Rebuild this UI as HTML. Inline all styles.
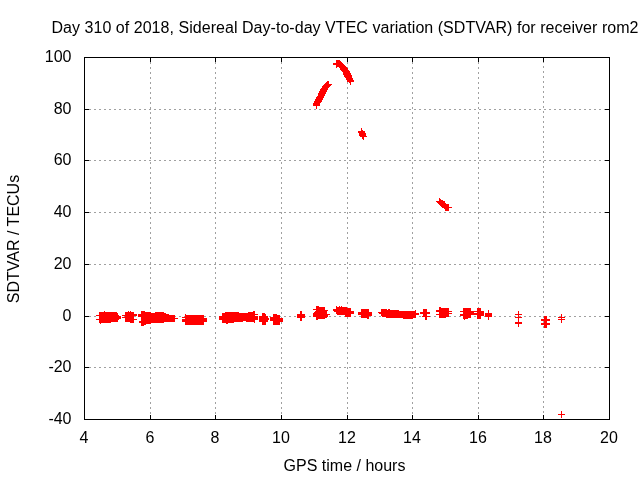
<!DOCTYPE html>
<html><head><meta charset="utf-8"><style>
html,body{margin:0;padding:0;background:#fff;width:640px;height:480px;overflow:hidden}
svg{display:block}
text{font-family:"Liberation Sans",Arial,sans-serif;font-size:16px;letter-spacing:0;fill:#000}
</style></head><body>
<svg width="640" height="480" viewBox="0 0 640 480" shape-rendering="crispEdges">
<rect width="640" height="480" fill="#fff"/>
<path d="M85 367h1v1h-1zM89 367h2v1h-2zM94 367h2v1h-2zM99 367h2v1h-2zM104 367h2v1h-2zM109 367h2v1h-2zM114 367h2v1h-2zM119 367h2v1h-2zM124 367h2v1h-2zM129 367h2v1h-2zM134 367h2v1h-2zM139 367h2v1h-2zM144 367h2v1h-2zM149 367h2v1h-2zM154 367h2v1h-2zM159 367h2v1h-2zM164 367h2v1h-2zM169 367h2v1h-2zM174 367h2v1h-2zM179 367h2v1h-2zM184 367h2v1h-2zM189 367h2v1h-2zM194 367h2v1h-2zM199 367h2v1h-2zM204 367h2v1h-2zM209 367h2v1h-2zM214 367h2v1h-2zM219 367h2v1h-2zM224 367h2v1h-2zM229 367h2v1h-2zM234 367h2v1h-2zM239 367h2v1h-2zM244 367h2v1h-2zM249 367h2v1h-2zM254 367h2v1h-2zM259 367h2v1h-2zM264 367h2v1h-2zM269 367h2v1h-2zM274 367h2v1h-2zM279 367h2v1h-2zM284 367h2v1h-2zM289 367h2v1h-2zM294 367h2v1h-2zM299 367h2v1h-2zM304 367h2v1h-2zM309 367h2v1h-2zM314 367h2v1h-2zM319 367h2v1h-2zM324 367h2v1h-2zM329 367h2v1h-2zM334 367h2v1h-2zM339 367h2v1h-2zM344 367h2v1h-2zM349 367h2v1h-2zM354 367h2v1h-2zM359 367h2v1h-2zM364 367h2v1h-2zM369 367h2v1h-2zM374 367h2v1h-2zM379 367h2v1h-2zM384 367h2v1h-2zM389 367h2v1h-2zM394 367h2v1h-2zM399 367h2v1h-2zM404 367h2v1h-2zM409 367h2v1h-2zM414 367h2v1h-2zM419 367h2v1h-2zM424 367h2v1h-2zM429 367h2v1h-2zM434 367h2v1h-2zM439 367h2v1h-2zM444 367h2v1h-2zM449 367h2v1h-2zM454 367h2v1h-2zM459 367h2v1h-2zM464 367h2v1h-2zM469 367h2v1h-2zM474 367h2v1h-2zM479 367h2v1h-2zM484 367h2v1h-2zM489 367h2v1h-2zM494 367h2v1h-2zM499 367h2v1h-2zM504 367h2v1h-2zM509 367h2v1h-2zM514 367h2v1h-2zM519 367h2v1h-2zM524 367h2v1h-2zM529 367h2v1h-2zM534 367h2v1h-2zM539 367h2v1h-2zM544 367h2v1h-2zM549 367h2v1h-2zM554 367h2v1h-2zM559 367h2v1h-2zM564 367h2v1h-2zM569 367h2v1h-2zM574 367h2v1h-2zM579 367h2v1h-2zM584 367h2v1h-2zM589 367h2v1h-2zM594 367h2v1h-2zM599 367h2v1h-2zM604 367h2v1h-2zM85 316h1v1h-1zM89 316h2v1h-2zM94 316h2v1h-2zM99 316h2v1h-2zM104 316h2v1h-2zM109 316h2v1h-2zM114 316h2v1h-2zM119 316h2v1h-2zM124 316h2v1h-2zM129 316h2v1h-2zM134 316h2v1h-2zM139 316h2v1h-2zM144 316h2v1h-2zM149 316h2v1h-2zM154 316h2v1h-2zM159 316h2v1h-2zM164 316h2v1h-2zM169 316h2v1h-2zM174 316h2v1h-2zM179 316h2v1h-2zM184 316h2v1h-2zM189 316h2v1h-2zM194 316h2v1h-2zM199 316h2v1h-2zM204 316h2v1h-2zM209 316h2v1h-2zM214 316h2v1h-2zM219 316h2v1h-2zM224 316h2v1h-2zM229 316h2v1h-2zM234 316h2v1h-2zM239 316h2v1h-2zM244 316h2v1h-2zM249 316h2v1h-2zM254 316h2v1h-2zM259 316h2v1h-2zM264 316h2v1h-2zM269 316h2v1h-2zM274 316h2v1h-2zM279 316h2v1h-2zM284 316h2v1h-2zM289 316h2v1h-2zM294 316h2v1h-2zM299 316h2v1h-2zM304 316h2v1h-2zM309 316h2v1h-2zM314 316h2v1h-2zM319 316h2v1h-2zM324 316h2v1h-2zM329 316h2v1h-2zM334 316h2v1h-2zM339 316h2v1h-2zM344 316h2v1h-2zM349 316h2v1h-2zM354 316h2v1h-2zM359 316h2v1h-2zM364 316h2v1h-2zM369 316h2v1h-2zM374 316h2v1h-2zM379 316h2v1h-2zM384 316h2v1h-2zM389 316h2v1h-2zM394 316h2v1h-2zM399 316h2v1h-2zM404 316h2v1h-2zM409 316h2v1h-2zM414 316h2v1h-2zM419 316h2v1h-2zM424 316h2v1h-2zM429 316h2v1h-2zM434 316h2v1h-2zM439 316h2v1h-2zM444 316h2v1h-2zM449 316h2v1h-2zM454 316h2v1h-2zM459 316h2v1h-2zM464 316h2v1h-2zM469 316h2v1h-2zM474 316h2v1h-2zM479 316h2v1h-2zM484 316h2v1h-2zM489 316h2v1h-2zM494 316h2v1h-2zM499 316h2v1h-2zM504 316h2v1h-2zM509 316h2v1h-2zM514 316h2v1h-2zM519 316h2v1h-2zM524 316h2v1h-2zM529 316h2v1h-2zM534 316h2v1h-2zM539 316h2v1h-2zM544 316h2v1h-2zM549 316h2v1h-2zM554 316h2v1h-2zM559 316h2v1h-2zM564 316h2v1h-2zM569 316h2v1h-2zM574 316h2v1h-2zM579 316h2v1h-2zM584 316h2v1h-2zM589 316h2v1h-2zM594 316h2v1h-2zM599 316h2v1h-2zM604 316h2v1h-2zM85 264h1v1h-1zM89 264h2v1h-2zM94 264h2v1h-2zM99 264h2v1h-2zM104 264h2v1h-2zM109 264h2v1h-2zM114 264h2v1h-2zM119 264h2v1h-2zM124 264h2v1h-2zM129 264h2v1h-2zM134 264h2v1h-2zM139 264h2v1h-2zM144 264h2v1h-2zM149 264h2v1h-2zM154 264h2v1h-2zM159 264h2v1h-2zM164 264h2v1h-2zM169 264h2v1h-2zM174 264h2v1h-2zM179 264h2v1h-2zM184 264h2v1h-2zM189 264h2v1h-2zM194 264h2v1h-2zM199 264h2v1h-2zM204 264h2v1h-2zM209 264h2v1h-2zM214 264h2v1h-2zM219 264h2v1h-2zM224 264h2v1h-2zM229 264h2v1h-2zM234 264h2v1h-2zM239 264h2v1h-2zM244 264h2v1h-2zM249 264h2v1h-2zM254 264h2v1h-2zM259 264h2v1h-2zM264 264h2v1h-2zM269 264h2v1h-2zM274 264h2v1h-2zM279 264h2v1h-2zM284 264h2v1h-2zM289 264h2v1h-2zM294 264h2v1h-2zM299 264h2v1h-2zM304 264h2v1h-2zM309 264h2v1h-2zM314 264h2v1h-2zM319 264h2v1h-2zM324 264h2v1h-2zM329 264h2v1h-2zM334 264h2v1h-2zM339 264h2v1h-2zM344 264h2v1h-2zM349 264h2v1h-2zM354 264h2v1h-2zM359 264h2v1h-2zM364 264h2v1h-2zM369 264h2v1h-2zM374 264h2v1h-2zM379 264h2v1h-2zM384 264h2v1h-2zM389 264h2v1h-2zM394 264h2v1h-2zM399 264h2v1h-2zM404 264h2v1h-2zM409 264h2v1h-2zM414 264h2v1h-2zM419 264h2v1h-2zM424 264h2v1h-2zM429 264h2v1h-2zM434 264h2v1h-2zM439 264h2v1h-2zM444 264h2v1h-2zM449 264h2v1h-2zM454 264h2v1h-2zM459 264h2v1h-2zM464 264h2v1h-2zM469 264h2v1h-2zM474 264h2v1h-2zM479 264h2v1h-2zM484 264h2v1h-2zM489 264h2v1h-2zM494 264h2v1h-2zM499 264h2v1h-2zM504 264h2v1h-2zM509 264h2v1h-2zM514 264h2v1h-2zM519 264h2v1h-2zM524 264h2v1h-2zM529 264h2v1h-2zM534 264h2v1h-2zM539 264h2v1h-2zM544 264h2v1h-2zM549 264h2v1h-2zM554 264h2v1h-2zM559 264h2v1h-2zM564 264h2v1h-2zM569 264h2v1h-2zM574 264h2v1h-2zM579 264h2v1h-2zM584 264h2v1h-2zM589 264h2v1h-2zM594 264h2v1h-2zM599 264h2v1h-2zM604 264h2v1h-2zM85 212h1v1h-1zM89 212h2v1h-2zM94 212h2v1h-2zM99 212h2v1h-2zM104 212h2v1h-2zM109 212h2v1h-2zM114 212h2v1h-2zM119 212h2v1h-2zM124 212h2v1h-2zM129 212h2v1h-2zM134 212h2v1h-2zM139 212h2v1h-2zM144 212h2v1h-2zM149 212h2v1h-2zM154 212h2v1h-2zM159 212h2v1h-2zM164 212h2v1h-2zM169 212h2v1h-2zM174 212h2v1h-2zM179 212h2v1h-2zM184 212h2v1h-2zM189 212h2v1h-2zM194 212h2v1h-2zM199 212h2v1h-2zM204 212h2v1h-2zM209 212h2v1h-2zM214 212h2v1h-2zM219 212h2v1h-2zM224 212h2v1h-2zM229 212h2v1h-2zM234 212h2v1h-2zM239 212h2v1h-2zM244 212h2v1h-2zM249 212h2v1h-2zM254 212h2v1h-2zM259 212h2v1h-2zM264 212h2v1h-2zM269 212h2v1h-2zM274 212h2v1h-2zM279 212h2v1h-2zM284 212h2v1h-2zM289 212h2v1h-2zM294 212h2v1h-2zM299 212h2v1h-2zM304 212h2v1h-2zM309 212h2v1h-2zM314 212h2v1h-2zM319 212h2v1h-2zM324 212h2v1h-2zM329 212h2v1h-2zM334 212h2v1h-2zM339 212h2v1h-2zM344 212h2v1h-2zM349 212h2v1h-2zM354 212h2v1h-2zM359 212h2v1h-2zM364 212h2v1h-2zM369 212h2v1h-2zM374 212h2v1h-2zM379 212h2v1h-2zM384 212h2v1h-2zM389 212h2v1h-2zM394 212h2v1h-2zM399 212h2v1h-2zM404 212h2v1h-2zM409 212h2v1h-2zM414 212h2v1h-2zM419 212h2v1h-2zM424 212h2v1h-2zM429 212h2v1h-2zM434 212h2v1h-2zM439 212h2v1h-2zM444 212h2v1h-2zM449 212h2v1h-2zM454 212h2v1h-2zM459 212h2v1h-2zM464 212h2v1h-2zM469 212h2v1h-2zM474 212h2v1h-2zM479 212h2v1h-2zM484 212h2v1h-2zM489 212h2v1h-2zM494 212h2v1h-2zM499 212h2v1h-2zM504 212h2v1h-2zM509 212h2v1h-2zM514 212h2v1h-2zM519 212h2v1h-2zM524 212h2v1h-2zM529 212h2v1h-2zM534 212h2v1h-2zM539 212h2v1h-2zM544 212h2v1h-2zM549 212h2v1h-2zM554 212h2v1h-2zM559 212h2v1h-2zM564 212h2v1h-2zM569 212h2v1h-2zM574 212h2v1h-2zM579 212h2v1h-2zM584 212h2v1h-2zM589 212h2v1h-2zM594 212h2v1h-2zM599 212h2v1h-2zM604 212h2v1h-2zM85 160h1v1h-1zM89 160h2v1h-2zM94 160h2v1h-2zM99 160h2v1h-2zM104 160h2v1h-2zM109 160h2v1h-2zM114 160h2v1h-2zM119 160h2v1h-2zM124 160h2v1h-2zM129 160h2v1h-2zM134 160h2v1h-2zM139 160h2v1h-2zM144 160h2v1h-2zM149 160h2v1h-2zM154 160h2v1h-2zM159 160h2v1h-2zM164 160h2v1h-2zM169 160h2v1h-2zM174 160h2v1h-2zM179 160h2v1h-2zM184 160h2v1h-2zM189 160h2v1h-2zM194 160h2v1h-2zM199 160h2v1h-2zM204 160h2v1h-2zM209 160h2v1h-2zM214 160h2v1h-2zM219 160h2v1h-2zM224 160h2v1h-2zM229 160h2v1h-2zM234 160h2v1h-2zM239 160h2v1h-2zM244 160h2v1h-2zM249 160h2v1h-2zM254 160h2v1h-2zM259 160h2v1h-2zM264 160h2v1h-2zM269 160h2v1h-2zM274 160h2v1h-2zM279 160h2v1h-2zM284 160h2v1h-2zM289 160h2v1h-2zM294 160h2v1h-2zM299 160h2v1h-2zM304 160h2v1h-2zM309 160h2v1h-2zM314 160h2v1h-2zM319 160h2v1h-2zM324 160h2v1h-2zM329 160h2v1h-2zM334 160h2v1h-2zM339 160h2v1h-2zM344 160h2v1h-2zM349 160h2v1h-2zM354 160h2v1h-2zM359 160h2v1h-2zM364 160h2v1h-2zM369 160h2v1h-2zM374 160h2v1h-2zM379 160h2v1h-2zM384 160h2v1h-2zM389 160h2v1h-2zM394 160h2v1h-2zM399 160h2v1h-2zM404 160h2v1h-2zM409 160h2v1h-2zM414 160h2v1h-2zM419 160h2v1h-2zM424 160h2v1h-2zM429 160h2v1h-2zM434 160h2v1h-2zM439 160h2v1h-2zM444 160h2v1h-2zM449 160h2v1h-2zM454 160h2v1h-2zM459 160h2v1h-2zM464 160h2v1h-2zM469 160h2v1h-2zM474 160h2v1h-2zM479 160h2v1h-2zM484 160h2v1h-2zM489 160h2v1h-2zM494 160h2v1h-2zM499 160h2v1h-2zM504 160h2v1h-2zM509 160h2v1h-2zM514 160h2v1h-2zM519 160h2v1h-2zM524 160h2v1h-2zM529 160h2v1h-2zM534 160h2v1h-2zM539 160h2v1h-2zM544 160h2v1h-2zM549 160h2v1h-2zM554 160h2v1h-2zM559 160h2v1h-2zM564 160h2v1h-2zM569 160h2v1h-2zM574 160h2v1h-2zM579 160h2v1h-2zM584 160h2v1h-2zM589 160h2v1h-2zM594 160h2v1h-2zM599 160h2v1h-2zM604 160h2v1h-2zM85 109h1v1h-1zM89 109h2v1h-2zM94 109h2v1h-2zM99 109h2v1h-2zM104 109h2v1h-2zM109 109h2v1h-2zM114 109h2v1h-2zM119 109h2v1h-2zM124 109h2v1h-2zM129 109h2v1h-2zM134 109h2v1h-2zM139 109h2v1h-2zM144 109h2v1h-2zM149 109h2v1h-2zM154 109h2v1h-2zM159 109h2v1h-2zM164 109h2v1h-2zM169 109h2v1h-2zM174 109h2v1h-2zM179 109h2v1h-2zM184 109h2v1h-2zM189 109h2v1h-2zM194 109h2v1h-2zM199 109h2v1h-2zM204 109h2v1h-2zM209 109h2v1h-2zM214 109h2v1h-2zM219 109h2v1h-2zM224 109h2v1h-2zM229 109h2v1h-2zM234 109h2v1h-2zM239 109h2v1h-2zM244 109h2v1h-2zM249 109h2v1h-2zM254 109h2v1h-2zM259 109h2v1h-2zM264 109h2v1h-2zM269 109h2v1h-2zM274 109h2v1h-2zM279 109h2v1h-2zM284 109h2v1h-2zM289 109h2v1h-2zM294 109h2v1h-2zM299 109h2v1h-2zM304 109h2v1h-2zM309 109h2v1h-2zM314 109h2v1h-2zM319 109h2v1h-2zM324 109h2v1h-2zM329 109h2v1h-2zM334 109h2v1h-2zM339 109h2v1h-2zM344 109h2v1h-2zM349 109h2v1h-2zM354 109h2v1h-2zM359 109h2v1h-2zM364 109h2v1h-2zM369 109h2v1h-2zM374 109h2v1h-2zM379 109h2v1h-2zM384 109h2v1h-2zM389 109h2v1h-2zM394 109h2v1h-2zM399 109h2v1h-2zM404 109h2v1h-2zM409 109h2v1h-2zM414 109h2v1h-2zM419 109h2v1h-2zM424 109h2v1h-2zM429 109h2v1h-2zM434 109h2v1h-2zM439 109h2v1h-2zM444 109h2v1h-2zM449 109h2v1h-2zM454 109h2v1h-2zM459 109h2v1h-2zM464 109h2v1h-2zM469 109h2v1h-2zM474 109h2v1h-2zM479 109h2v1h-2zM484 109h2v1h-2zM489 109h2v1h-2zM494 109h2v1h-2zM499 109h2v1h-2zM504 109h2v1h-2zM509 109h2v1h-2zM514 109h2v1h-2zM519 109h2v1h-2zM524 109h2v1h-2zM529 109h2v1h-2zM534 109h2v1h-2zM539 109h2v1h-2zM544 109h2v1h-2zM549 109h2v1h-2zM554 109h2v1h-2zM559 109h2v1h-2zM564 109h2v1h-2zM569 109h2v1h-2zM574 109h2v1h-2zM579 109h2v1h-2zM584 109h2v1h-2zM589 109h2v1h-2zM594 109h2v1h-2zM599 109h2v1h-2zM604 109h2v1h-2zM150 58h1v1h-1zM150 62h1v2h-1zM150 67h1v2h-1zM150 72h1v2h-1zM150 77h1v2h-1zM150 82h1v2h-1zM150 87h1v2h-1zM150 92h1v2h-1zM150 97h1v2h-1zM150 102h1v2h-1zM150 107h1v2h-1zM150 112h1v2h-1zM150 117h1v2h-1zM150 122h1v2h-1zM150 127h1v2h-1zM150 132h1v2h-1zM150 137h1v2h-1zM150 142h1v2h-1zM150 147h1v2h-1zM150 152h1v2h-1zM150 157h1v2h-1zM150 162h1v2h-1zM150 167h1v2h-1zM150 172h1v2h-1zM150 177h1v2h-1zM150 182h1v2h-1zM150 187h1v2h-1zM150 192h1v2h-1zM150 197h1v2h-1zM150 202h1v2h-1zM150 207h1v2h-1zM150 212h1v2h-1zM150 217h1v2h-1zM150 222h1v2h-1zM150 227h1v2h-1zM150 232h1v2h-1zM150 237h1v2h-1zM150 242h1v2h-1zM150 247h1v2h-1zM150 252h1v2h-1zM150 257h1v2h-1zM150 262h1v2h-1zM150 267h1v2h-1zM150 272h1v2h-1zM150 277h1v2h-1zM150 282h1v2h-1zM150 287h1v2h-1zM150 292h1v2h-1zM150 297h1v2h-1zM150 302h1v2h-1zM150 307h1v2h-1zM150 312h1v2h-1zM150 317h1v2h-1zM150 322h1v2h-1zM150 327h1v2h-1zM150 332h1v2h-1zM150 337h1v2h-1zM150 342h1v2h-1zM150 347h1v2h-1zM150 352h1v2h-1zM150 357h1v2h-1zM150 362h1v2h-1zM150 367h1v2h-1zM150 372h1v2h-1zM150 377h1v2h-1zM150 382h1v2h-1zM150 387h1v2h-1zM150 392h1v2h-1zM150 397h1v2h-1zM150 402h1v2h-1zM150 407h1v2h-1zM150 412h1v2h-1zM150 417h1v2h-1zM215 58h1v1h-1zM215 62h1v2h-1zM215 67h1v2h-1zM215 72h1v2h-1zM215 77h1v2h-1zM215 82h1v2h-1zM215 87h1v2h-1zM215 92h1v2h-1zM215 97h1v2h-1zM215 102h1v2h-1zM215 107h1v2h-1zM215 112h1v2h-1zM215 117h1v2h-1zM215 122h1v2h-1zM215 127h1v2h-1zM215 132h1v2h-1zM215 137h1v2h-1zM215 142h1v2h-1zM215 147h1v2h-1zM215 152h1v2h-1zM215 157h1v2h-1zM215 162h1v2h-1zM215 167h1v2h-1zM215 172h1v2h-1zM215 177h1v2h-1zM215 182h1v2h-1zM215 187h1v2h-1zM215 192h1v2h-1zM215 197h1v2h-1zM215 202h1v2h-1zM215 207h1v2h-1zM215 212h1v2h-1zM215 217h1v2h-1zM215 222h1v2h-1zM215 227h1v2h-1zM215 232h1v2h-1zM215 237h1v2h-1zM215 242h1v2h-1zM215 247h1v2h-1zM215 252h1v2h-1zM215 257h1v2h-1zM215 262h1v2h-1zM215 267h1v2h-1zM215 272h1v2h-1zM215 277h1v2h-1zM215 282h1v2h-1zM215 287h1v2h-1zM215 292h1v2h-1zM215 297h1v2h-1zM215 302h1v2h-1zM215 307h1v2h-1zM215 312h1v2h-1zM215 317h1v2h-1zM215 322h1v2h-1zM215 327h1v2h-1zM215 332h1v2h-1zM215 337h1v2h-1zM215 342h1v2h-1zM215 347h1v2h-1zM215 352h1v2h-1zM215 357h1v2h-1zM215 362h1v2h-1zM215 367h1v2h-1zM215 372h1v2h-1zM215 377h1v2h-1zM215 382h1v2h-1zM215 387h1v2h-1zM215 392h1v2h-1zM215 397h1v2h-1zM215 402h1v2h-1zM215 407h1v2h-1zM215 412h1v2h-1zM215 417h1v2h-1zM281 58h1v1h-1zM281 62h1v2h-1zM281 67h1v2h-1zM281 72h1v2h-1zM281 77h1v2h-1zM281 82h1v2h-1zM281 87h1v2h-1zM281 92h1v2h-1zM281 97h1v2h-1zM281 102h1v2h-1zM281 107h1v2h-1zM281 112h1v2h-1zM281 117h1v2h-1zM281 122h1v2h-1zM281 127h1v2h-1zM281 132h1v2h-1zM281 137h1v2h-1zM281 142h1v2h-1zM281 147h1v2h-1zM281 152h1v2h-1zM281 157h1v2h-1zM281 162h1v2h-1zM281 167h1v2h-1zM281 172h1v2h-1zM281 177h1v2h-1zM281 182h1v2h-1zM281 187h1v2h-1zM281 192h1v2h-1zM281 197h1v2h-1zM281 202h1v2h-1zM281 207h1v2h-1zM281 212h1v2h-1zM281 217h1v2h-1zM281 222h1v2h-1zM281 227h1v2h-1zM281 232h1v2h-1zM281 237h1v2h-1zM281 242h1v2h-1zM281 247h1v2h-1zM281 252h1v2h-1zM281 257h1v2h-1zM281 262h1v2h-1zM281 267h1v2h-1zM281 272h1v2h-1zM281 277h1v2h-1zM281 282h1v2h-1zM281 287h1v2h-1zM281 292h1v2h-1zM281 297h1v2h-1zM281 302h1v2h-1zM281 307h1v2h-1zM281 312h1v2h-1zM281 317h1v2h-1zM281 322h1v2h-1zM281 327h1v2h-1zM281 332h1v2h-1zM281 337h1v2h-1zM281 342h1v2h-1zM281 347h1v2h-1zM281 352h1v2h-1zM281 357h1v2h-1zM281 362h1v2h-1zM281 367h1v2h-1zM281 372h1v2h-1zM281 377h1v2h-1zM281 382h1v2h-1zM281 387h1v2h-1zM281 392h1v2h-1zM281 397h1v2h-1zM281 402h1v2h-1zM281 407h1v2h-1zM281 412h1v2h-1zM281 417h1v2h-1zM347 58h1v1h-1zM347 62h1v2h-1zM347 67h1v2h-1zM347 72h1v2h-1zM347 77h1v2h-1zM347 82h1v2h-1zM347 87h1v2h-1zM347 92h1v2h-1zM347 97h1v2h-1zM347 102h1v2h-1zM347 107h1v2h-1zM347 112h1v2h-1zM347 117h1v2h-1zM347 122h1v2h-1zM347 127h1v2h-1zM347 132h1v2h-1zM347 137h1v2h-1zM347 142h1v2h-1zM347 147h1v2h-1zM347 152h1v2h-1zM347 157h1v2h-1zM347 162h1v2h-1zM347 167h1v2h-1zM347 172h1v2h-1zM347 177h1v2h-1zM347 182h1v2h-1zM347 187h1v2h-1zM347 192h1v2h-1zM347 197h1v2h-1zM347 202h1v2h-1zM347 207h1v2h-1zM347 212h1v2h-1zM347 217h1v2h-1zM347 222h1v2h-1zM347 227h1v2h-1zM347 232h1v2h-1zM347 237h1v2h-1zM347 242h1v2h-1zM347 247h1v2h-1zM347 252h1v2h-1zM347 257h1v2h-1zM347 262h1v2h-1zM347 267h1v2h-1zM347 272h1v2h-1zM347 277h1v2h-1zM347 282h1v2h-1zM347 287h1v2h-1zM347 292h1v2h-1zM347 297h1v2h-1zM347 302h1v2h-1zM347 307h1v2h-1zM347 312h1v2h-1zM347 317h1v2h-1zM347 322h1v2h-1zM347 327h1v2h-1zM347 332h1v2h-1zM347 337h1v2h-1zM347 342h1v2h-1zM347 347h1v2h-1zM347 352h1v2h-1zM347 357h1v2h-1zM347 362h1v2h-1zM347 367h1v2h-1zM347 372h1v2h-1zM347 377h1v2h-1zM347 382h1v2h-1zM347 387h1v2h-1zM347 392h1v2h-1zM347 397h1v2h-1zM347 402h1v2h-1zM347 407h1v2h-1zM347 412h1v2h-1zM347 417h1v2h-1zM412 58h1v1h-1zM412 62h1v2h-1zM412 67h1v2h-1zM412 72h1v2h-1zM412 77h1v2h-1zM412 82h1v2h-1zM412 87h1v2h-1zM412 92h1v2h-1zM412 97h1v2h-1zM412 102h1v2h-1zM412 107h1v2h-1zM412 112h1v2h-1zM412 117h1v2h-1zM412 122h1v2h-1zM412 127h1v2h-1zM412 132h1v2h-1zM412 137h1v2h-1zM412 142h1v2h-1zM412 147h1v2h-1zM412 152h1v2h-1zM412 157h1v2h-1zM412 162h1v2h-1zM412 167h1v2h-1zM412 172h1v2h-1zM412 177h1v2h-1zM412 182h1v2h-1zM412 187h1v2h-1zM412 192h1v2h-1zM412 197h1v2h-1zM412 202h1v2h-1zM412 207h1v2h-1zM412 212h1v2h-1zM412 217h1v2h-1zM412 222h1v2h-1zM412 227h1v2h-1zM412 232h1v2h-1zM412 237h1v2h-1zM412 242h1v2h-1zM412 247h1v2h-1zM412 252h1v2h-1zM412 257h1v2h-1zM412 262h1v2h-1zM412 267h1v2h-1zM412 272h1v2h-1zM412 277h1v2h-1zM412 282h1v2h-1zM412 287h1v2h-1zM412 292h1v2h-1zM412 297h1v2h-1zM412 302h1v2h-1zM412 307h1v2h-1zM412 312h1v2h-1zM412 317h1v2h-1zM412 322h1v2h-1zM412 327h1v2h-1zM412 332h1v2h-1zM412 337h1v2h-1zM412 342h1v2h-1zM412 347h1v2h-1zM412 352h1v2h-1zM412 357h1v2h-1zM412 362h1v2h-1zM412 367h1v2h-1zM412 372h1v2h-1zM412 377h1v2h-1zM412 382h1v2h-1zM412 387h1v2h-1zM412 392h1v2h-1zM412 397h1v2h-1zM412 402h1v2h-1zM412 407h1v2h-1zM412 412h1v2h-1zM412 417h1v2h-1zM478 58h1v1h-1zM478 62h1v2h-1zM478 67h1v2h-1zM478 72h1v2h-1zM478 77h1v2h-1zM478 82h1v2h-1zM478 87h1v2h-1zM478 92h1v2h-1zM478 97h1v2h-1zM478 102h1v2h-1zM478 107h1v2h-1zM478 112h1v2h-1zM478 117h1v2h-1zM478 122h1v2h-1zM478 127h1v2h-1zM478 132h1v2h-1zM478 137h1v2h-1zM478 142h1v2h-1zM478 147h1v2h-1zM478 152h1v2h-1zM478 157h1v2h-1zM478 162h1v2h-1zM478 167h1v2h-1zM478 172h1v2h-1zM478 177h1v2h-1zM478 182h1v2h-1zM478 187h1v2h-1zM478 192h1v2h-1zM478 197h1v2h-1zM478 202h1v2h-1zM478 207h1v2h-1zM478 212h1v2h-1zM478 217h1v2h-1zM478 222h1v2h-1zM478 227h1v2h-1zM478 232h1v2h-1zM478 237h1v2h-1zM478 242h1v2h-1zM478 247h1v2h-1zM478 252h1v2h-1zM478 257h1v2h-1zM478 262h1v2h-1zM478 267h1v2h-1zM478 272h1v2h-1zM478 277h1v2h-1zM478 282h1v2h-1zM478 287h1v2h-1zM478 292h1v2h-1zM478 297h1v2h-1zM478 302h1v2h-1zM478 307h1v2h-1zM478 312h1v2h-1zM478 317h1v2h-1zM478 322h1v2h-1zM478 327h1v2h-1zM478 332h1v2h-1zM478 337h1v2h-1zM478 342h1v2h-1zM478 347h1v2h-1zM478 352h1v2h-1zM478 357h1v2h-1zM478 362h1v2h-1zM478 367h1v2h-1zM478 372h1v2h-1zM478 377h1v2h-1zM478 382h1v2h-1zM478 387h1v2h-1zM478 392h1v2h-1zM478 397h1v2h-1zM478 402h1v2h-1zM478 407h1v2h-1zM478 412h1v2h-1zM478 417h1v2h-1zM543 61h1v2h-1zM543 66h1v2h-1zM543 71h1v2h-1zM543 76h1v2h-1zM543 81h1v2h-1zM543 86h1v2h-1zM543 91h1v2h-1zM543 96h1v2h-1zM543 101h1v2h-1zM543 106h1v2h-1zM543 111h1v2h-1zM543 116h1v2h-1zM543 121h1v2h-1zM543 126h1v2h-1zM543 131h1v2h-1zM543 136h1v2h-1zM543 141h1v2h-1zM543 146h1v2h-1zM543 151h1v2h-1zM543 156h1v2h-1zM543 161h1v2h-1zM543 166h1v2h-1zM543 171h1v2h-1zM543 176h1v2h-1zM543 181h1v2h-1zM543 186h1v2h-1zM543 191h1v2h-1zM543 196h1v2h-1zM543 201h1v2h-1zM543 206h1v2h-1zM543 211h1v2h-1zM543 216h1v2h-1zM543 221h1v2h-1zM543 226h1v2h-1zM543 231h1v2h-1zM543 236h1v2h-1zM543 241h1v2h-1zM543 246h1v2h-1zM543 251h1v2h-1zM543 256h1v2h-1zM543 261h1v2h-1zM543 266h1v2h-1zM543 271h1v2h-1zM543 276h1v2h-1zM543 281h1v2h-1zM543 286h1v2h-1zM543 291h1v2h-1zM543 296h1v2h-1zM543 301h1v2h-1zM543 306h1v2h-1zM543 311h1v2h-1zM543 316h1v2h-1zM543 321h1v2h-1zM543 326h1v2h-1zM543 331h1v2h-1zM543 336h1v2h-1zM543 341h1v2h-1zM543 346h1v2h-1zM543 351h1v2h-1zM543 356h1v2h-1zM543 361h1v2h-1zM543 366h1v2h-1zM543 371h1v2h-1zM543 376h1v2h-1zM543 381h1v2h-1zM543 386h1v2h-1zM543 391h1v2h-1zM543 396h1v2h-1zM543 401h1v2h-1zM543 406h1v2h-1zM543 411h1v2h-1zM543 416h1v2h-1z" fill="#a0a0a0"/>
<path d="M84 57h526v1h-526z M84 419h526v1h-526z M84 57h1v363h-1z M609 57h1v363h-1zM85 367h4v1h-4z M605 367h4v1h-4zM85 316h4v1h-4z M605 316h4v1h-4zM85 264h4v1h-4z M605 264h4v1h-4zM85 212h4v1h-4z M605 212h4v1h-4zM85 160h4v1h-4z M605 160h4v1h-4zM85 109h4v1h-4z M605 109h4v1h-4zM150 58h1v4h-1z M150 415h1v4h-1zM215 58h1v4h-1z M215 415h1v4h-1zM281 58h1v4h-1z M281 415h1v4h-1zM347 58h1v4h-1z M347 415h1v4h-1zM412 58h1v4h-1z M412 415h1v4h-1zM478 58h1v4h-1z M478 415h1v4h-1zM543 58h1v4h-1z M543 415h1v4h-1z" fill="#000"/>
<path d="M336 60h4v1h-4zM336 61h5v1h-5zM336 62h6v1h-6zM333 63h10v1h-10zM333 64h11v1h-11zM336 65h9v1h-9zM336 66h10v1h-10zM339 67h8v1h-8zM336 67h1v1h-1zM340 68h8v2h-8zM341 70h8v1h-8zM342 71h8v1h-8zM343 72h7v1h-7zM343 73h8v2h-8zM344 75h8v2h-8zM345 77h7v1h-7zM346 78h7v2h-7zM347 80h7v2h-7zM327 81h2v1h-2zM326 82h3v1h-3zM349 82h2v1h-2zM325 83h4v1h-4zM350 83h1v2h-1zM324 84h8v1h-8zM323 85h8v1h-8zM322 86h8v1h-8zM322 87h7v1h-7zM321 88h7v1h-7zM320 89h8v1h-8zM320 90h7v1h-7zM319 91h8v1h-8zM319 92h7v1h-7zM318 93h8v1h-8zM318 94h7v2h-7zM317 96h7v1h-7zM316 97h8v1h-8zM316 98h7v1h-7zM315 99h8v1h-8zM315 100h7v1h-7zM314 101h8v1h-8zM314 102h7v1h-7zM313 103h7v3h-7zM316 106h1v3h-1zM361 128h1v2h-1zM361 130h2v1h-2zM358 131h7v2h-7zM359 133h7v3h-7zM360 136h7v1h-7zM362 137h2v2h-2zM363 139h1v1h-1zM439 198h1v1h-1zM439 199h2v1h-2zM439 200h4v1h-4zM436 201h9v1h-9zM437 202h8v1h-8zM438 203h8v1h-8zM439 204h10v1h-10zM440 205h9v1h-9zM441 206h8v1h-8zM442 207h10v1h-10zM444 208h5v1h-5zM445 209h4v2h-4zM339 306h1v1h-1zM316 306h3v1h-3zM336 306h1v1h-1zM341 306h1v1h-1zM336 307h11v1h-11zM439 307h2v1h-2zM316 307h9v2h-9zM336 308h15v1h-15zM439 308h10v2h-10zM381 309h6v1h-6zM313 309h12v1h-12zM388 309h2v1h-2zM477 308h4v3h-4zM463 308h8v3h-8zM333 309h18v2h-18zM415 310h1v1h-1zM436 310h13v1h-13zM381 310h18v1h-18zM316 310h12v1h-12zM361 309h8v3h-8zM423 309h4v3h-4zM128 311h1v1h-1zM334 311h20v1h-20zM141 311h4v1h-4zM436 311h16v1h-16zM381 311h35v1h-35zM253 311h2v1h-2zM460 311h24v1h-24zM315 311h12v1h-12zM130 311h1v1h-1zM104 311h1v1h-1zM488 310h1v3h-1zM463 312h11v1h-11zM248 312h7v1h-7zM439 312h10v1h-10zM141 312h10v1h-10zM314 312h13v1h-13zM378 312h38v1h-38zM477 312h7v1h-7zM155 312h9v1h-9zM99 312h18v1h-18zM225 312h14v1h-14zM518 311h1v3h-1zM300 311h2v3h-2zM420 312h10v2h-10zM125 312h9v2h-9zM336 312h18v2h-18zM463 313h21v1h-21zM222 313h33v1h-33zM262 313h3v1h-3zM439 313h13v1h-13zM141 313h25v1h-25zM379 313h40v1h-40zM313 313h14v1h-14zM358 312h14v3h-14zM99 313h19v2h-19zM313 314h17v1h-17zM337 314h14v1h-14zM222 314h36v1h-36zM185 314h1v1h-1zM273 314h4v1h-4zM436 314h13v1h-13zM515 314h7v1h-7zM125 314h12v1h-12zM460 314h24v1h-24zM381 314h38v1h-38zM138 314h31v1h-31zM262 314h4v2h-4zM423 314h4v2h-4zM222 315h33v1h-33zM361 315h11v1h-11zM381 315h35v1h-35zM460 315h11v1h-11zM122 315h15v1h-15zM96 315h23v1h-23zM477 315h7v1h-7zM485 313h7v4h-7zM561 314h1v3h-1zM439 315h10v2h-10zM345 315h6v2h-6zM518 315h1v2h-1zM273 315h7v2h-7zM185 315h19v2h-19zM313 315h15v2h-15zM138 315h37v2h-37zM125 316h9v1h-9zM422 316h8v1h-8zM382 316h34v1h-34zM297 314h8v4h-8zM361 316h8v2h-8zM259 316h9v2h-9zM463 316h8v2h-8zM439 317h7v1h-7zM122 317h12v1h-12zM515 317h7v1h-7zM558 317h7v1h-7zM141 317h34v1h-34zM316 317h11v1h-11zM386 317h30v1h-30zM270 317h10v1h-10zM182 317h22v1h-22zM544 316h3v3h-3zM477 316h4v3h-4zM99 316h22v3h-22zM141 318h37v1h-37zM561 318h1v1h-1zM403 318h10v1h-10zM125 318h9v1h-9zM367 318h2v1h-2zM185 318h22v1h-22zM316 318h9v1h-9zM463 318h5v1h-5zM219 316h39v4h-39zM488 317h1v3h-1zM425 317h2v3h-2zM259 318h10v2h-10zM96 319h23v1h-23zM125 319h12v1h-12zM558 319h7v1h-7zM464 319h1v1h-1zM316 319h2v1h-2zM270 318h13v3h-13zM300 318h2v3h-2zM541 319h9v2h-9zM141 319h34v2h-34zM222 320h33v1h-33zM518 318h1v4h-1zM182 319h25v3h-25zM125 320h9v2h-9zM99 320h19v2h-19zM259 320h9v2h-9zM139 321h36v1h-36zM246 321h9v1h-9zM273 321h10v1h-10zM222 321h21v1h-21zM561 320h1v3h-1zM544 321h3v2h-3zM254 322h1v1h-1zM99 322h12v1h-12zM139 322h25v1h-25zM222 322h12v1h-12zM130 322h4v1h-4zM515 322h7v2h-7zM141 323h10v1h-10zM226 323h2v1h-2zM100 323h1v1h-1zM262 322h4v3h-4zM273 322h7v3h-7zM185 322h19v3h-19zM541 323h9v2h-9zM141 324h5v1h-5zM141 325h3v1h-3zM518 324h1v3h-1zM544 325h3v3h-3zM561 411h1v3h-1zM558 414h7v1h-7zM561 415h1v3h-1z" fill="#f00"/>
<g style="filter:grayscale(1)"><text x="71.5" y="424" text-anchor="end" class="t">-40</text><text x="71.5" y="372" text-anchor="end" class="t">-20</text><text x="71.5" y="321" text-anchor="end" class="t">0</text><text x="71.5" y="269" text-anchor="end" class="t">20</text><text x="71.5" y="217" text-anchor="end" class="t">40</text><text x="71.5" y="165" text-anchor="end" class="t">60</text><text x="71.5" y="114" text-anchor="end" class="t">80</text><text x="71.5" y="62" text-anchor="end" class="t">100</text><text x="84" y="443" text-anchor="middle" class="t">4</text><text x="150" y="443" text-anchor="middle" class="t">6</text><text x="215" y="443" text-anchor="middle" class="t">8</text><text x="281" y="443" text-anchor="middle" class="t">10</text><text x="347" y="443" text-anchor="middle" class="t">12</text><text x="412" y="443" text-anchor="middle" class="t">14</text><text x="478" y="443" text-anchor="middle" class="t">16</text><text x="543" y="443" text-anchor="middle" class="t">18</text><text x="609" y="443" text-anchor="middle" class="t">20</text><text x="344.5" y="471" text-anchor="middle">GPS time / hours</text><text transform="translate(19,239) rotate(-90)" text-anchor="middle" style="font-size:16px;letter-spacing:0">SDTVAR / TECUs</text><text x="345" y="33" text-anchor="middle" style="letter-spacing:0.04px">Day 310 of 2018, Sidereal Day-to-day VTEC variation (SDTVAR) for receiver rom2</text></g>
</svg></body></html>
